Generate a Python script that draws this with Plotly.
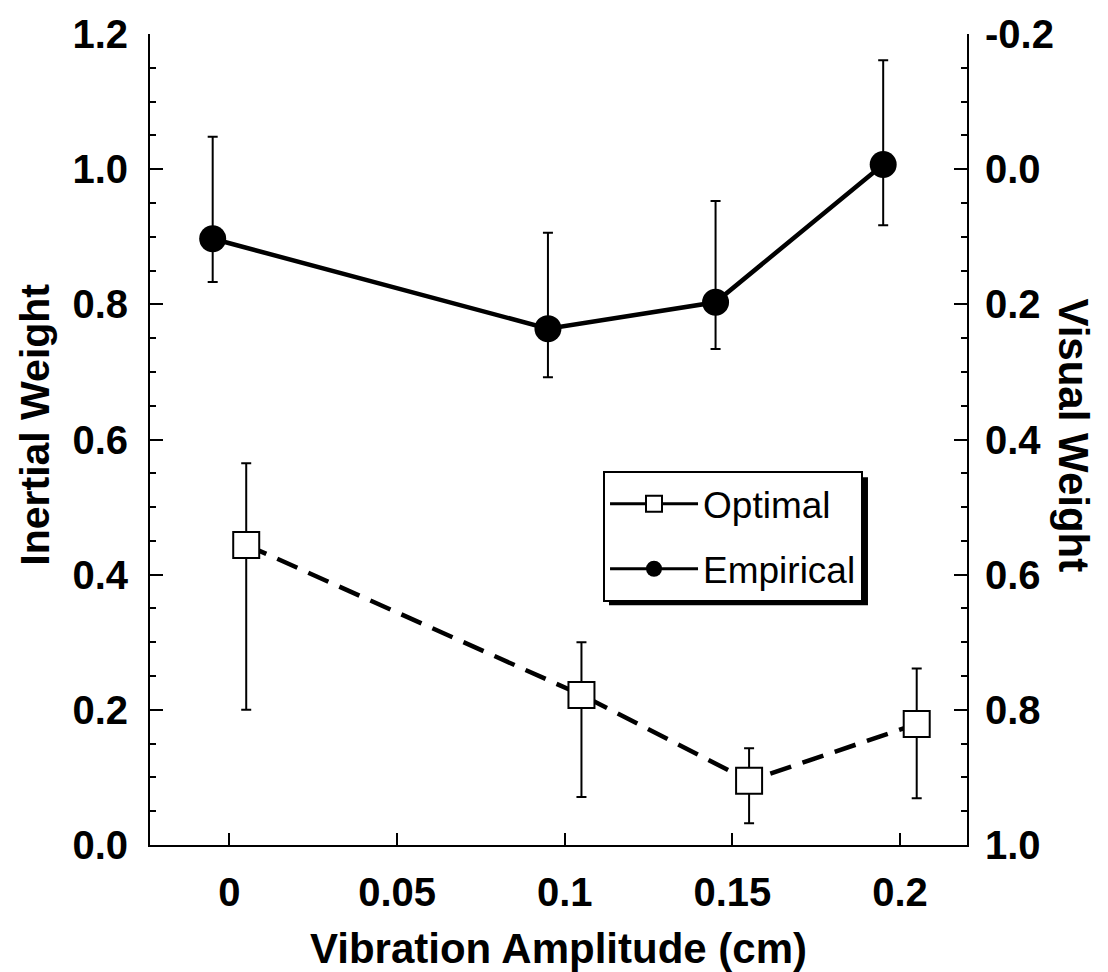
import plotly.graph_objects as go

# ---------------- data ----------------
amplitude = [0.0, 0.1, 0.15, 0.2]          # vibration amplitude (cm)
empirical_offset = -0.005                  # horizontal jitter used in the figure
optimal_offset = 0.005

empirical_weight = [0.897, 0.764, 0.803, 1.007]
empirical_upper = [1.048, 0.906, 0.953, 1.161]
empirical_lower = [0.833, 0.692, 0.734, 0.917]

optimal_weight = [0.444, 0.222, 0.095, 0.179]
optimal_upper = [0.565, 0.300, 0.143, 0.261]
optimal_lower = [0.200, 0.071, 0.032, 0.069]

x_tick_vals = [0, 0.05, 0.1, 0.15, 0.2]
x_tick_text = ["0", "0.05", "0.1", "0.15", "0.2"]
left_tick_vals = [0.0, 0.2, 0.4, 0.6, 0.8, 1.0, 1.2]
left_tick_text = ["0.0", "0.2", "0.4", "0.6", "0.8", "1.0", "1.2"]
right_tick_vals = [-0.2, 0.0, 0.2, 0.4, 0.6, 0.8, 1.0]
right_tick_text = ["-0.2", "0.0", "0.2", "0.4", "0.6", "0.8", "1.0"]

FONT = "Liberation Sans, Arial, Helvetica, sans-serif"

emp_x = [a + empirical_offset for a in amplitude]
opt_x = [a + optimal_offset for a in amplitude]

fig = go.Figure()

fig.add_trace(go.Scatter(
    x=emp_x, y=empirical_weight, mode="lines+markers", name="Empirical",
    showlegend=False,
    line=dict(color="black", width=4.5),
    marker=dict(symbol="circle", size=27, color="black"),
    error_y=dict(type="data", symmetric=False,
                 array=[u - v for u, v in zip(empirical_upper, empirical_weight)],
                 arrayminus=[v - l for v, l in zip(empirical_weight, empirical_lower)],
                 color="black", thickness=2, width=5),
))

fig.add_trace(go.Scatter(
    x=opt_x, y=optimal_weight, mode="lines+markers", name="Optimal",
    showlegend=False,
    line=dict(color="black", width=4.5, dash="22px,12px"),
    marker=dict(symbol="square", size=26, color="white",
                line=dict(color="black", width=2)),
    error_y=dict(type="data", symmetric=False,
                 array=[u - v for u, v in zip(optimal_upper, optimal_weight)],
                 arrayminus=[v - l for v, l in zip(optimal_weight, optimal_lower)],
                 color="black", thickness=2, width=5),
))

# legend entries (solid sample lines, as in the original key)
fig.add_trace(go.Scatter(
    x=[None], y=[None], mode="lines+markers", name="Optimal",
    legendgroup="a",
    line=dict(color="black", width=3),
    marker=dict(symbol="square", size=26, color="white",
                line=dict(color="black", width=2)),
))
fig.add_trace(go.Scatter(
    x=[None], y=[None], mode="lines+markers", name="Empirical",
    legendgroup="b", yaxis="y2",
    line=dict(color="black", width=3),
    marker=dict(symbol="circle", size=27, color="black"),
))

tick_font = dict(family=FONT, size=40, color="black", weight="bold")
title_font = dict(family=FONT, size=42, color="black", weight="bold")

# legend placement (plot-area fractions) and its drop shadow
leg_x, leg_y = 0.5545, 0.461
leg_w, leg_h = 0.317, 0.158
sh_dx, sh_dy = 0.0073, 0.0074

fig.update_layout(
    width=1108, height=972,
    margin=dict(l=150, r=141, t=34, b=127, autoexpand=False),
    plot_bgcolor="white", paper_bgcolor="white",
    showlegend=True,
    legend=dict(
        x=leg_x, y=leg_y, xanchor="left", yanchor="top",
        bgcolor="white", bordercolor="black", borderwidth=2,
        font=dict(family=FONT, size=37, color="black"),
        itemwidth=88, traceorder="grouped", tracegroupgap=14,
    ),
    shapes=[
        dict(type="rect", xref="paper", yref="paper", layer="above",
             x0=leg_x + sh_dx, x1=leg_x + leg_w + sh_dx,
             y0=leg_y - leg_h - sh_dy, y1=leg_y - sh_dy,
             fillcolor="black", line=dict(width=0)),
    ],
    xaxis=dict(
        range=[-0.0237, 0.22], showgrid=False, zeroline=False, automargin=False,
        showline=True, linecolor="black", linewidth=2,
        ticks="inside", ticklen=12, tickwidth=2, tickcolor="black",
        tickvals=x_tick_vals, ticktext=x_tick_text,
        tickfont=tick_font, ticklabelstandoff=11,
        title=dict(text="Vibration Amplitude (cm)", font=title_font, standoff=27),
    ),
    yaxis=dict(
        range=[0, 1.2], showgrid=False, zeroline=False, automargin=False,
        showline=True, linecolor="black", linewidth=2,
        ticks="inside", ticklen=13, tickwidth=2, tickcolor="black",
        tickvals=left_tick_vals, ticktext=left_tick_text,
        tickfont=tick_font, ticklabelstandoff=12,
        minor=dict(dtick=0.05, ticks="inside", ticklen=6, tickwidth=2,
                   tickcolor="black", showgrid=False),
    ),
    yaxis2=dict(
        range=[1.0, -0.2], overlaying="y", side="right", automargin=False,
        showgrid=False, zeroline=False,
        showline=True, linecolor="black", linewidth=2,
        ticks="inside", ticklen=13, tickwidth=2, tickcolor="black",
        tickvals=right_tick_vals, ticktext=right_tick_text,
        tickfont=tick_font, ticklabelstandoff=8,
        minor=dict(dtick=0.05, ticks="inside", ticklen=6, tickwidth=2,
                   tickcolor="black", showgrid=False),
    ),
    annotations=[
        dict(text="Inertial Weight", xref="paper", yref="paper",
             x=-0.141, y=0.518, xanchor="center", yanchor="middle",
             textangle=-90, showarrow=False,
             font=dict(family=FONT, size=41, color="black", weight="bold")),
        dict(text="Visual Weight", xref="paper", yref="paper",
             x=1.131, y=0.505, xanchor="center", yanchor="middle",
             textangle=90, showarrow=False, font=title_font),
    ],
)

# remove the browser's default 8px page margin so the figure sits at (0, 0)
fig.write_html("out.html", config={"displayModeBar": False},
               post_script="document.body.style.margin='0px';")
